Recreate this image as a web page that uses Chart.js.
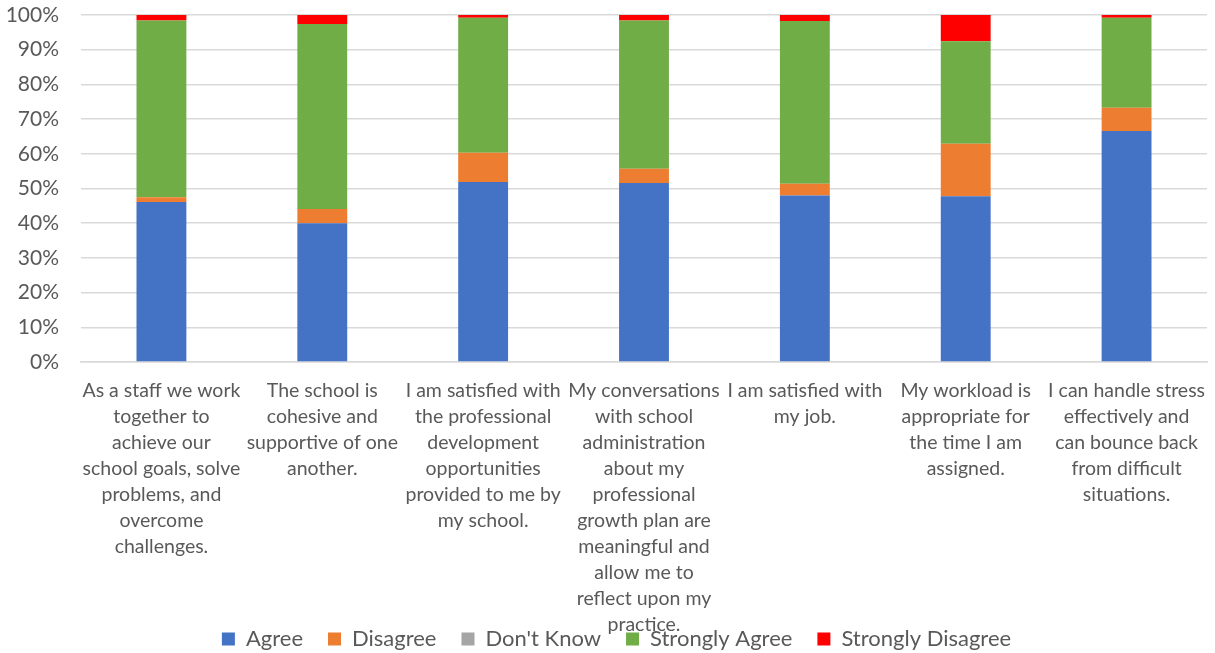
<!DOCTYPE html>
<html>
<head>
<meta charset="utf-8">
<script src="https://cdn.jsdelivr.net/npm/chart.js@4"></script>
<style>
  html, body { margin: 0; padding: 0; background: #fff; }
  #wrap { width: 1215px; height: 653px; }
</style>
</head>
<body>
<div id="wrap"><canvas id="chart" width="1215" height="653"></canvas></div>
<script>
// survey statements, wrapped the way they show under each bar
const categorias = [
  ['As a staff we work', 'together to', 'achieve our', 'school goals, solve', 'problems, and', 'overcome', 'challenges.'],
  ['The school is', 'cohesive and', 'supportive of one', 'another.'],
  ['I am satisfied with', 'the professional', 'development', 'opportunities', 'provided to me by', 'my school.'],
  ['My conversations', 'with school', 'administration', 'about my', 'professional', 'growth plan are', 'meaningful and', 'allow me to', 'reflect upon my', 'practice.'],
  ['I am satisfied with', 'my job.'],
  ['My workload is', 'appropriate for', 'the time I am', 'assigned.'],
  ['I can handle stress', 'effectively and', 'can bounce back', 'from difficult', 'situations.']
];

// percent of responses per statement
const agree            = [46.1, 40.0, 51.9, 51.6, 48.0, 47.8, 66.6];
const disagree         = [1.4, 4.1, 8.4, 4.1, 3.4, 15.1, 6.7];
const dontKnow         = [0, 0, 0, 0, 0, 0, 0];
const stronglyAgree    = [50.9, 53.3, 38.9, 42.7, 46.9, 29.5, 25.9];
const stronglyDisagree = [1.6, 2.6, 0.8, 1.6, 1.7, 7.6, 0.8];

const yTicks = [0, 10, 20, 30, 40, 50, 60, 70, 80, 90, 100];

const fonte = 'Lato, "Open Sans", sans-serif';
const cinza = '#595959';

function serie(label, data, cor) {
  return {
    label: label,
    data: data,
    backgroundColor: cor,
    borderWidth: 0,
    categoryPercentage: 1,
    barPercentage: 0.31
  };
}

// the long last label runs under the legend, like the legend sitting low on the page
const ajusteLayout = {
  id: 'ajusteLayout',
  afterLayout(chart) {
    chart.scales.x.bottom = chart.height;
    const lg = chart.legend;
    const h = lg.height;
    lg.top = 638 - lg.options.labels.padding - 10;
    lg.bottom = lg.top + h;
    lg.left += 13;
    lg.right += 13;
  }
};

const ctx = document.getElementById('chart').getContext('2d');
const grafico = new Chart(ctx, {
  type: 'bar',
  data: {
    labels: categorias,
    datasets: [
      serie('Agree', agree, '#4472C4'),
      serie('Disagree', disagree, '#ED7D31'),
      serie("Don't Know", dontKnow, '#A5A5A5'),
      serie('Strongly Agree', stronglyAgree, '#70AD47'),
      serie('Strongly Disagree', stronglyDisagree, '#FF0000')
    ]
  },
  plugins: [ajusteLayout],
  options: {
    responsive: false,
    animation: false,
    layout: { padding: { top: 15, right: 8, left: 0, bottom: 0 } },
    plugins: {
      tooltip: { enabled: false },
      legend: {
        position: 'bottom',
        labels: {
          font: { family: fonte, size: 22 },
          color: cinza,
          boxWidth: 13,
          boxHeight: 13,
          padding: 25
        }
      }
    },
    scales: {
      x: {
        stacked: true,
        grid: { display: false },
        border: { color: '#d9d9d9', width: 1.5 },
        ticks: {
          font: { family: fonte, size: 19.5, lineHeight: 1.33 },
          color: cinza,
          maxRotation: 0,
          autoSkip: false,
          padding: 8
        },
        afterFit: s => { s.height = 234; }
      },
      y: {
        stacked: true,
        min: 0,
        max: 100,
        afterBuildTicks: s => { s.ticks = yTicks.map(v => ({ value: v })); },
        grid: { color: '#d9d9d9', lineWidth: 1.5, drawTicks: false },
        border: { display: false },
        ticks: {
          font: { family: fonte, size: 21 },
          color: cinza,
          padding: 22,
          callback: v => v + '%'
        },
        afterFit: s => { s.width = 81; s.paddingTop = 0; s.paddingBottom = 0; }
      }
    }
  }
});
</script>
</body>
</html>
